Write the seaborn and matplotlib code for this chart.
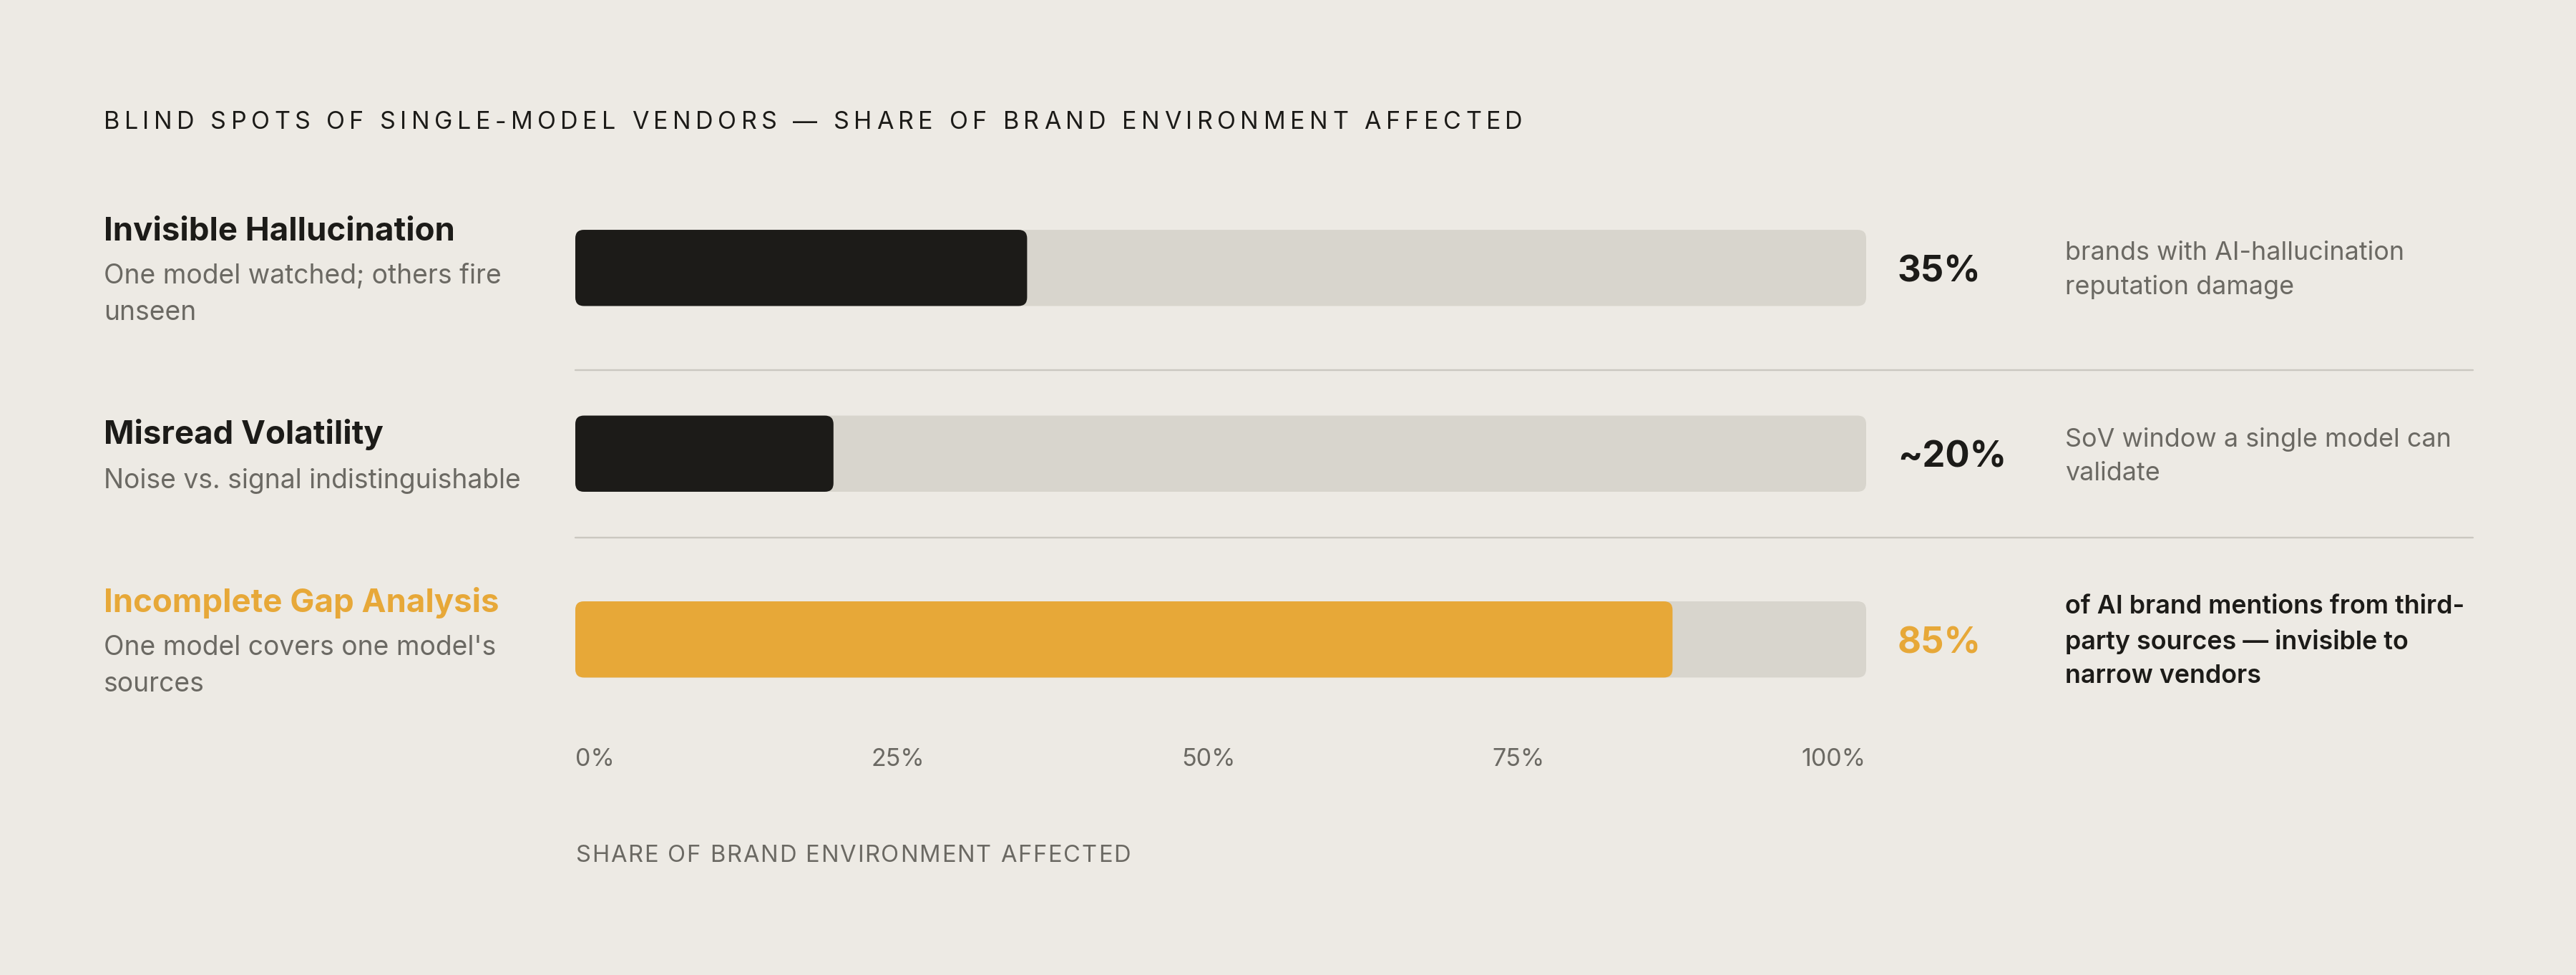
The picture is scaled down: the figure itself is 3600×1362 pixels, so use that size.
import numpy as np
import pandas as pd
import seaborn as sns
import matplotlib.pyplot as plt
from matplotlib import transforms
from matplotlib.patches import FancyBboxPatch

# data
titles = ["Invisible Hallucination", "Misread Volatility", "Incomplete Gap Analysis"]
subtitles = ["One model watched; others fire\nunseen",
             "Noise vs. signal indistinguishable",
             "One model covers one model's\nsources"]
values = [35, 20, 85]
value_labels = ["35%", "~20%", "85%"]
notes = ["brands with AI-hallucination\nreputation damage",
         "SoV window a single model can\nvalidate",
         "of AI brand mentions from third-\nparty sources \u2014 invisible to\nnarrow vendors"]
highlight = [False, False, True]
ticks = [0, 25, 50, 75, 100]
tick_labels = ["0%", "25%", "50%", "75%", "100%"]
chart_title = "BLIND SPOTS OF SINGLE-MODEL VENDORS \u2014 SHARE OF BRAND ENVIRONMENT AFFECTED"
axis_title = "SHARE OF BRAND ENVIRONMENT AFFECTED"

# colours
BG = "#edeae4"
DARK = "#1c1b18"
TRACK = "#d8d5cd"
ORANGE = "#e7a838"
GREY = "#6b6963"
RULE = "#cbc8c0"

W, H = 3600, 1362
sns.set_theme(style="white", rc={"figure.facecolor": BG, "axes.facecolor": BG})
plt.rcParams["font.family"] = ["Inter", "DejaVu Sans"]

fig = plt.figure(figsize=(W / 100, H / 100), dpi=100)
AX_L, AX_W = 804, 1804
ax = fig.add_axes([AX_L / W, 1 - 1023 / H, AX_W / W, 778.5 / H])

df = pd.DataFrame({"gap": titles, "share": values, "full": [100] * len(values)})
sns.barplot(data=df, x="full", y="gap", color=TRACK, width=0.41, saturation=1,
            ax=ax, orient="h")
sns.barplot(data=df, x="share", y="gap", hue="gap",
            palette=[ORANGE if h else DARK for h in highlight],
            width=0.41, saturation=1, legend=False, ax=ax, orient="h")
ax.set_xlim(0, 100)
ax.set_ylim(len(values) - 0.5, -0.5)

# round the bar ends
px_x = AX_W / 100
px_y = 778.5 / len(values)
rad = 12
for p in list(ax.patches):
    x0, y0, w, h = p.get_x(), p.get_y(), p.get_width(), p.get_height()
    fc = p.get_facecolor()
    p.remove()
    ax.add_patch(FancyBboxPatch((x0, y0), w, h,
                                boxstyle=f"round,pad=0,rounding_size={rad / px_x}",
                                mutation_aspect=px_x / px_y, fc=fc, ec="none", lw=0))

# separators
for ys in [0.55, 1.45]:
    ax.axhline(ys, xmin=0, xmax=(3456 - AX_L) / AX_W, color=RULE, lw=1.7, clip_on=False)

sns.despine(ax=ax, left=True, bottom=True)
ax.set_ylabel("")
ax.set_xlabel("")
ax.set_yticks([])
ax.set_xticks(ticks, tick_labels)
ax.tick_params(axis="x", length=0, pad=16, labelsize=24.5, labelcolor=GREY)

# tick labels spread edge to edge with equal gaps between them
r = fig.canvas.get_renderer()
xl = ax.get_xticklabels()
widths = [t.get_window_extent(r).width for t in xl]
gap = (AX_W - sum(widths)) / (len(xl) - 1)
left = 0.0
for t, v, wd in zip(xl, ticks, widths):
    centre = left + wd / 2
    dx = centre - v * px_x
    t.set_transform(t.get_transform() + transforms.ScaledTranslation(dx / 100, 0, fig.dpi_scale_trans))
    left += wd + gap

# row texts (multi-line texts are anchored on the baseline of their last line)
PT = 0.72  # points per pixel
row_tr = transforms.blended_transform_factory(fig.transFigure, ax.transData)
for i in range(len(values)):
    n = subtitles[i].count("\n") + 1
    tb = -(30 + 49 * (n - 1)) / 2 + 1
    ax.annotate(titles[i], xy=(145 / W, i), xycoords=row_tr,
                xytext=(0, -tb * PT), textcoords="offset points",
                va="baseline", ha="left", fontsize=32.8, fontweight="bold",
                color=ORANGE if highlight[i] else DARK)
    sb = tb + 62 + 49 * (n - 1)
    ax.annotate(subtitles[i], xy=(145 / W, i), xycoords=row_tr,
                xytext=(0, -sb * PT), textcoords="offset points",
                va="baseline", ha="left", fontsize=26.8, color=GREY, linespacing=1.54)
    ax.annotate(value_labels[i], xy=(2652 / W, i), xycoords=row_tr,
                xytext=(0, -19 * PT), textcoords="offset points",
                va="baseline", ha="left", fontsize=36.5, fontweight="bold",
                color=ORANGE if highlight[i] else DARK)
    m = notes[i].count("\n") + 1
    nb = -24 * m + 37 + 48 * (m - 1)
    ax.annotate(notes[i], xy=(2886 / W, i), xycoords=row_tr,
                xytext=(0, -nb * PT), textcoords="offset points",
                va="baseline", ha="left", fontsize=25.8, linespacing=1.54,
                fontweight="semibold" if highlight[i] else "normal",
                color=DARK if highlight[i] else GREY)


def tracked(x_px, base_px, s, width_px, **kw):
    probe = fig.text(0, 0, "X", **kw)
    wx = probe.get_window_extent(r).width

    def wid(t):
        probe.set_text(t + "X")
        return probe.get_window_extent(r).width - wx

    step = (width_px - wid(s)) / (len(s) - 1)
    for k, ch in enumerate(s):
        if ch == " ":
            continue
        fig.text((x_px + wid(s[:k]) + k * step) / W, 1 - base_px / H, ch,
                 ha="left", va="baseline", **kw)
    probe.remove()


tracked(145, 180.5, chart_title, 1983, fontsize=24.5, color=DARK)
tracked(AX_L, 1204.5, axis_title, 776, fontsize=23.5, color=GREY)

fig.savefig("out.png", dpi=100, facecolor=BG)
